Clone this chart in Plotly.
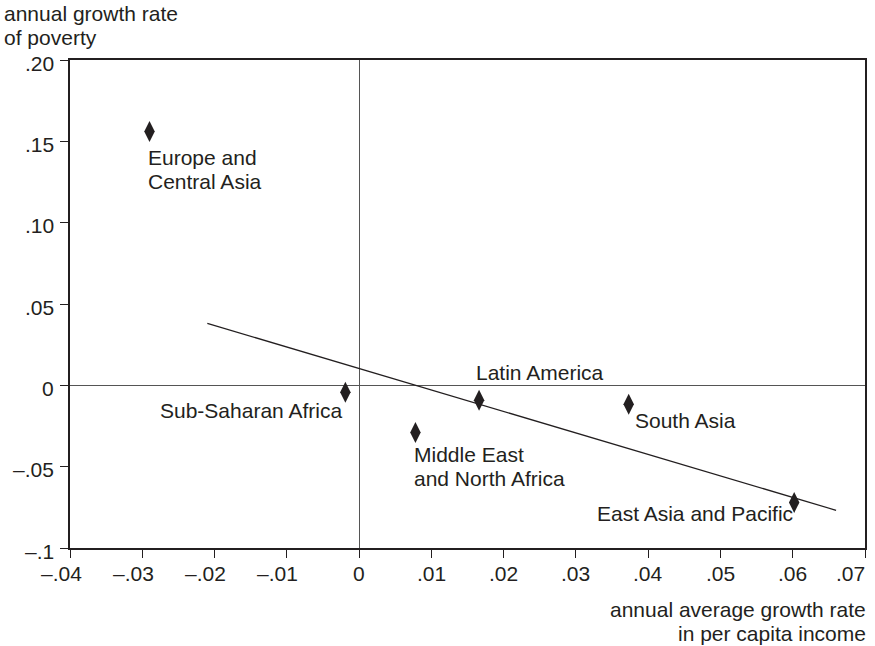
import plotly.graph_objects as go

# Regional observations: income growth vs. poverty growth
regions = ["Europe and<br>Central Asia", "Sub-Saharan Africa", "Middle East<br>and North Africa",
           "Latin America", "South Asia", "East Asia and Pacific"]
income_growth = [-0.029, -0.0019, 0.0078, 0.0166, 0.0373, 0.0602]
poverty_growth = [0.156, -0.0043, -0.029, -0.0092, -0.0117, -0.072]

# Fitted line endpoints
trend_x = [-0.021, 0.066]
trend_y = [0.0381, -0.0768]

x_tickvals = [-0.04, -0.03, -0.02, -0.01, 0, 0.01, 0.02, 0.03, 0.04, 0.05, 0.06, 0.07]
x_ticktext = ["–.04", "–.03", "–.02", "–.01", "0", ".01", ".02", ".03", ".04", ".05", ".06", ".07"]
y_tickvals = [-0.1, -0.05, 0, 0.05, 0.10, 0.15, 0.20]
y_ticktext = ["–.1", "–.05", "0", ".05", ".10", ".15", ".20"]

x_title = "annual average growth rate<br>in per capita income"
y_title = "annual growth rate<br>of poverty"
source_note = "Source: World Bank data."

FONT = "Liberation Sans, Arial, Helvetica, sans-serif"
INK = "#231f20"
FS = 21
LINE_GAP = 24

# Plot-area geometry in pixels
W, H = 875, 646
ML, MR, MT, MB = 70, 8, 60, 98
PW, PH = W - ML - MR, H - MT - MB


def px_x(p):
    return (p - ML) / PW


def px_y(p):
    return (H - MB - p) / PH


fig = go.Figure()

fig.add_trace(go.Scatter(
    x=trend_x, y=trend_y, mode="lines",
    line=dict(color=INK, width=1.3), hoverinfo="skip", showlegend=False,
))
fig.add_trace(go.Scatter(
    x=income_growth, y=poverty_growth, mode="markers",
    marker=dict(symbol="diamond-tall", size=15, color=INK, line=dict(width=0)),
    text=regions, hoverinfo="text", showlegend=False,
))


def text_block(text, anchor, **kw):
    """Multi-line text drawn one line per annotation with a fixed line gap."""
    base_shift = kw.pop("yshift", 0)
    for i, line in enumerate(text.split("<br>")):
        fig.add_annotation(
            text=line, showarrow=False, xanchor=anchor, yanchor="middle",
            yshift=base_shift - i * LINE_GAP,
            font=dict(size=FS, color=kw.pop("color", INK) if i == 0 else INK, family=FONT),
            **kw,
        )


# Region labels: anchor side and pixel offsets from each marker
label_style = [
    ("left", -4, -26),
    ("right", -1, -18),
    ("left", -3, -21.5),
    ("left", -5, 28),
    ("left", 4, -16.5),
    ("right", 1, -11.5),
]
for name, xv, yv, (anchor, dx, dy) in zip(regions, income_growth, poverty_growth, label_style):
    text_block(name, anchor, x=xv, y=yv, xshift=dx, yshift=dy)

# Axis titles and source note
text_block(y_title, "left", xref="paper", yref="paper", x=px_x(2), y=px_y(13))
text_block(x_title, "right", xref="paper", yref="paper", x=px_x(870), y=px_y(609))
text_block(source_note, "left", xref="paper", yref="paper", x=px_x(2), y=px_y(656), color="#444")

# Tick labels (negative labels sit slightly left, the last one stays inside the frame)
for v, t in zip(x_tickvals, x_ticktext):
    if v == x_tickvals[-1]:
        fig.add_annotation(x=v, y=px_y(573.5), xref="x", yref="paper", text=t, showarrow=False,
                           xanchor="right", yanchor="middle", xshift=2,
                           font=dict(size=FS, color=INK, family=FONT))
    else:
        fig.add_annotation(x=v, y=px_y(573.5), xref="x", yref="paper", text=t, showarrow=False,
                           xanchor="center", yanchor="middle", xshift=-9 if v < 0 else 0,
                           font=dict(size=FS, color=INK, family=FONT))
for v, t in zip(y_tickvals, y_ticktext):
    fig.add_annotation(x=px_x(56), y=v, xref="paper", yref="y", text=t, showarrow=False,
                       xanchor="right", yanchor="middle", yshift=-3,
                       font=dict(size=FS, color=INK, family=FONT))

axis_common = dict(
    showgrid=False, showline=True, linecolor=INK, linewidth=2, mirror=True,
    ticks="outside", ticklen=8, tickwidth=1, tickcolor=INK, showticklabels=False,
    zeroline=True, zerolinecolor="#555", zerolinewidth=1,
)

fig.update_xaxes(range=[-0.04, 0.07], tickvals=x_tickvals, **axis_common)
fig.update_yaxes(range=[-0.1, 0.20], tickvals=y_tickvals, **axis_common)

fig.update_layout(
    width=W, height=H,
    margin=dict(l=ML, r=MR, t=MT, b=MB),
    paper_bgcolor="white", plot_bgcolor="white",
    font=dict(family=FONT, size=FS, color=INK),
)

fig.write_html("out.html")
